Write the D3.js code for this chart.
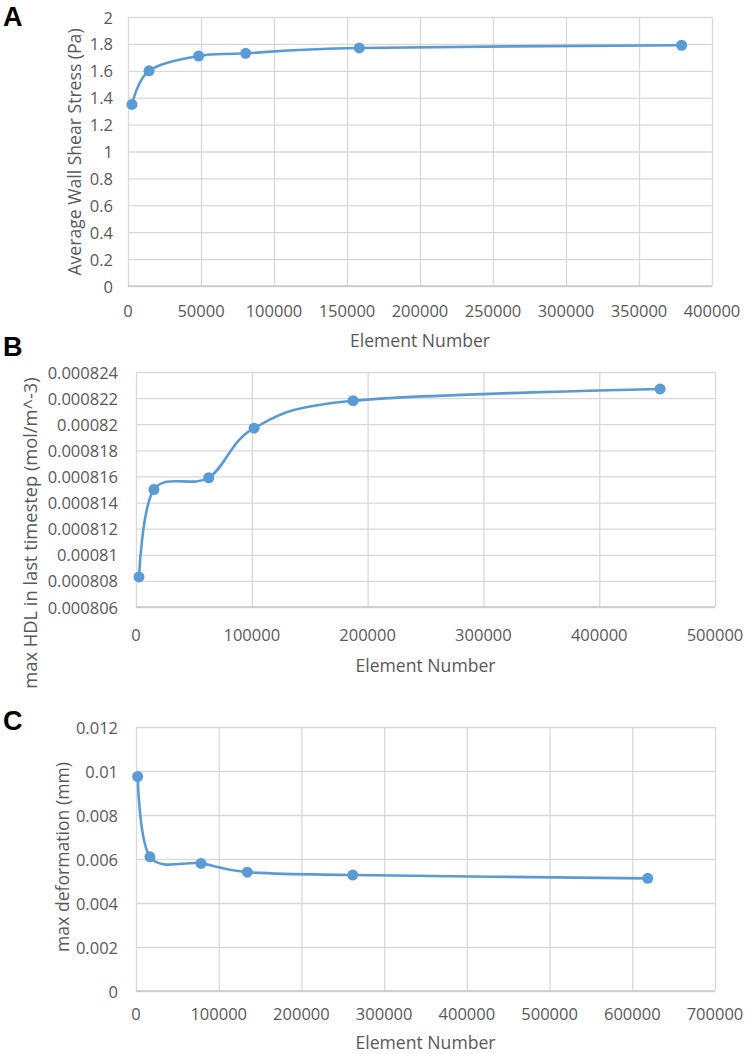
<!DOCTYPE html>
<html>
<head>
<meta charset="utf-8">
<script src="https://cdn.jsdelivr.net/npm/d3@7.9.0/dist/d3.min.js"></script>
<style>
  body { margin: 0; background: #fff; }
  svg { display: block; }
  text { font-family: "Open Sans", sans-serif; fill: #595959; }
  .panel-letter { font-family: "Liberation Sans", Arial, sans-serif; font-weight: bold; fill: #000; }
</style>
</head>
<body>
<svg id="chart" width="749" height="1054"></svg>
<script>
// panel A: average wall shear stress
const wssElements = [2700, 14400, 48400, 80600, 158400, 379200];
const wssValues = [1.35, 1.6, 1.71, 1.73, 1.77, 1.79];
const wssXTicks = [0, 50000, 100000, 150000, 200000, 250000, 300000, 350000, 400000];
const wssYTicks = [0, 0.2, 0.4, 0.6, 0.8, 1, 1.2, 1.4, 1.6, 1.8, 2];

// panel B: max HDL
const hdlElements = [2600, 15500, 62800, 102000, 187400, 452600];
const hdlValues = [0.0008083, 0.000815, 0.0008159, 0.0008197, 0.0008218, 0.0008227];
const hdlXTicks = [0, 100000, 200000, 300000, 400000, 500000];
const hdlYTicks = [0.000806, 0.000808, 0.00081, 0.000812, 0.000814, 0.000816, 0.000818, 0.00082, 0.000822, 0.000824];

// panel C: max deformation
const defElements = [2000, 16900, 78600, 134600, 262000, 618700];
const defValues = [0.00975, 0.0061, 0.0058, 0.0054, 0.00527, 0.00512];
const defXTicks = [0, 100000, 200000, 300000, 400000, 500000, 600000, 700000];
const defYTicks = [0, 0.002, 0.004, 0.006, 0.008, 0.01, 0.012];

const blue = '#5B9BD5';
const svg = d3.select('#chart');

function drawPanel(opts) {
    const x = d3.scaleLinear()
        .domain(d3.extent(opts.xTicks))
        .range([opts.left, opts.right]);
    const y = d3.scaleLinear()
        .domain(d3.extent(opts.yTicks))
        .range([opts.bottom, opts.top]);

    const g = svg.append('g');

    // gridlines
    g.append('g')
        .attr('transform', `translate(0,${opts.bottom})`)
        .call(d3.axisBottom(x).tickValues(opts.xTicks).tickSize(-(opts.bottom - opts.top)).tickFormat(''))
        .call((a) => a.select('.domain').remove())
        .selectAll('line').attr('stroke', '#D9D9D9').attr('stroke-width', 1.3);

    g.append('g')
        .attr('transform', `translate(${opts.left},0)`)
        .call(d3.axisLeft(y).tickValues(opts.yTicks).tickSize(-(opts.right - opts.left)).tickFormat(''))
        .call((a) => a.select('.domain').remove())
        .selectAll('line').attr('stroke', '#D9D9D9').attr('stroke-width', 1.3);

    // bottom axis line
    g.append('line')
        .attr('x1', opts.left).attr('x2', opts.right)
        .attr('y1', opts.bottom).attr('y2', opts.bottom)
        .attr('stroke', '#C8C8C8').attr('stroke-width', 1.5);

    // tick labels
    g.selectAll('.xlab')
        .data(opts.xTicks)
        .join('text')
        .attr('x', (d) => x(d))
        .attr('y', opts.xLabelY)
        .attr('text-anchor', 'middle')
        .attr('dominant-baseline', 'central')
        .style('font-size', '16.5px')
        .text((d) => d);

    g.selectAll('.ylab')
        .data(opts.yTicks)
        .join('text')
        .attr('x', opts.yLabelRight)
        .attr('y', (d) => y(d))
        .attr('text-anchor', 'end')
        .attr('dominant-baseline', 'central')
        .style('font-size', '16.5px')
        .text((d) => d3.format('~g')(+d.toPrecision(6)));

    // axis titles
    g.append('text')
        .attr('x', (opts.left + opts.right) / 2)
        .attr('y', opts.xTitleY)
        .attr('text-anchor', 'middle')
        .attr('dominant-baseline', 'central')
        .style('font-size', '17.6px')
        .text('Element Number');

    g.append('text')
        .attr('transform', `translate(${opts.yTitleX},${opts.yTitleY}) rotate(-90)`)
        .attr('text-anchor', 'middle')
        .attr('dominant-baseline', 'central')
        .style('font-size', opts.yTitleSize)
        .text(opts.yTitle);

    // data
    const pts = opts.xs.map((v, i) => [v, opts.ys[i]]);
    const line = d3.line()
        .x((d) => x(d[0]))
        .y((d) => y(d[1]))
        .curve(d3.curveCatmullRom.alpha(0));

    g.append('path')
        .attr('d', line(pts))
        .attr('fill', 'none')
        .attr('stroke', blue)
        .attr('stroke-width', 2.6);

    g.selectAll('circle')
        .data(pts)
        .join('circle')
        .attr('cx', (d) => x(d[0]))
        .attr('cy', (d) => y(d[1]))
        .attr('r', 5.5)
        .attr('fill', blue);

    svg.append('text')
        .attr('class', 'panel-letter')
        .attr('x', opts.letterX)
        .attr('y', opts.letterY)
        .style('font-size', '27px')
        .text(opts.letter);
}

drawPanel({
    letter: 'A', letterX: 3, letterY: 26,
    xs: wssElements, ys: wssValues,
    xTicks: wssXTicks, yTicks: wssYTicks,
    left: 128, right: 712, top: 17, bottom: 286,
    xLabelY: 310, yLabelRight: 113, xTitleY: 340,
    yTitleX: 74, yTitleY: 152, yTitleSize: '17.6px',
    yTitle: 'Average Wall Shear Stress (Pa)'
});

drawPanel({
    letter: 'B', letterX: 3, letterY: 356,
    xs: hdlElements, ys: hdlValues,
    xTicks: hdlXTicks, yTicks: hdlYTicks,
    left: 136, right: 715, top: 372, bottom: 607,
    xLabelY: 634, yLabelRight: 118, xTitleY: 665,
    yTitleX: 29, yTitleY: 533, yTitleSize: '18.3px',
    yTitle: 'max HDL in last timestep (mol/m^-3)'
});

drawPanel({
    letter: 'C', letterX: 3, letterY: 730,
    xs: defElements, ys: defValues,
    xTicks: defXTicks, yTicks: defYTicks,
    left: 136, right: 715, top: 727, bottom: 991,
    xLabelY: 1013, yLabelRight: 118, xTitleY: 1042,
    yTitleX: 62, yTitleY: 857, yTitleSize: '17.6px',
    yTitle: 'max deformation (mm)'
});
</script>
</body>
</html>
